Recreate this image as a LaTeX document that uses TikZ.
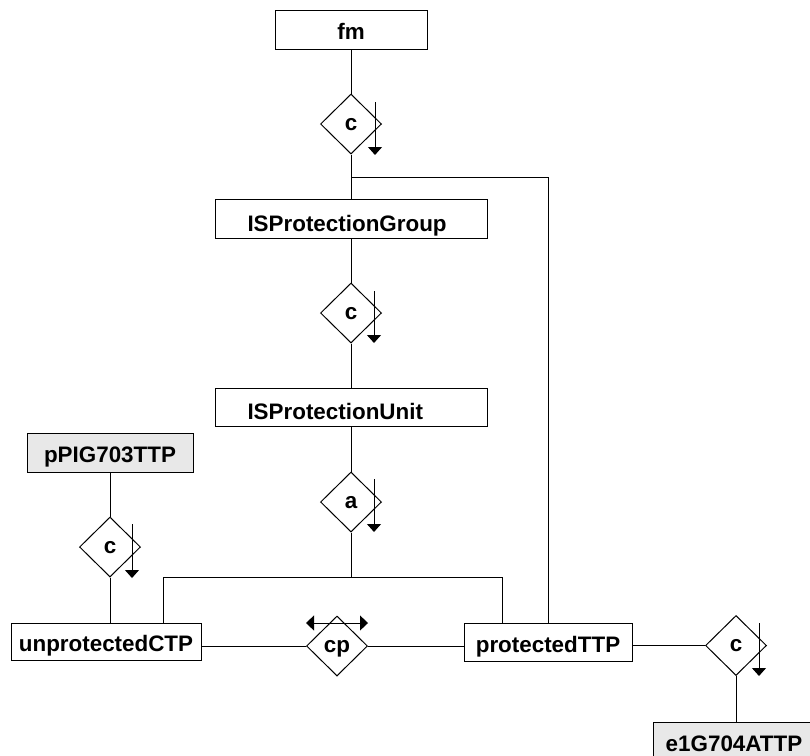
\documentclass[tikz,border=0pt]{standalone}
\usepackage{fontspec}
\setmainfont{Liberation Sans}
\usetikzlibrary{shapes.geometric,arrows.meta}
\begin{document}
\begin{tikzpicture}[x=1pt,y=-1pt,line width=1pt,
  every node/.style={font=\fontsize{22.4}{26}\selectfont\bfseries},
  box/.style={draw,rectangle,inner sep=0pt,text height=20pt,text depth=0pt,minimum height=39pt},
  leftbox/.style={box,align=left,anchor=west},
  graybox/.style={box,fill=black!9},
  rel/.style={draw,diamond,inner sep=0pt,minimum width=61pt,minimum height=60pt,text height=12pt,text depth=0pt,fill=white},
  flowarrow/.style={-{Triangle[width=14pt,length=8pt]}},
  botharrow/.style={{Triangle[width=15pt,length=8pt]}-{Triangle[width=15pt,length=8pt]}}
]
\useasboundingbox (0,0) rectangle (810,755);
\clip (0,0) rectangle (810,755);

% nodes
\node[box,minimum width=152pt] (fm) at (351,29.5) {fm};
\node[rel] (c1) at (351,124) {c};
\node[box,minimum width=272pt] (ispg) at (351,218.5) {};
\node[anchor=base west,inner sep=0pt] (ispgt) at (247,231) {ISProtectionGroup};
\node[rel] (c2) at (351,313) {c};
\node[box,minimum width=272pt,minimum height=38pt] (ispu) at (351,407) {};
\node[anchor=base west,inner sep=0pt] (isput) at (247,419.5) {ISProtectionUnit};
\node[rel] (ra) at (351,502) {a};
\node[graybox,minimum width=166pt] (ppig) at (110,452.5) {pPIG703TTP};
\node[rel] (cl) at (110,547) {c};
\node[box,minimum width=190pt,minimum height=37pt] (uctp) at (106,641.5) {unprotectedCTP};
\node[rel] (cp) at (337,646) {cp};
\node[box,minimum width=168pt,minimum height=38pt] (pttp) at (548,642) {protectedTTP};
\node[rel] (cr) at (736,645.5) {c};
\node[graybox,minimum width=162pt] (e1) at (734,741.5) {e1G704ATTP};

\coordinate (j1) at (351,177);
\coordinate (j2) at (351,577);
\coordinate (jl) at (163,577);
\coordinate (jr) at (502,577);

% connectors
\draw (fm.south) -- (c1.north);
\draw (c1.south) -- (ispg.north);
\draw (j1) -| (pttp.north);
\draw (ispg.south) -- (c2.north);
\draw (c2.south) -- (ispu.north);
\draw (ispu.south) -- (ra.north);
\draw (ra.south) -- (j2);
\draw (jl) -- (jr);
\draw (jl) -- (jl |- uctp.north);
\draw (jr) -- (jr |- pttp.north);
\draw (ppig.south) -- (cl.north);
\draw (cl.south) -- (cl.south |- uctp.north);
\draw (uctp.east |- cp.west) -- (cp.west);
\draw (cp.east) -- (pttp.west |- cp.east);
\draw (pttp.east |- cr.west) -- (cr.west);
\draw (cr.south) -- (cr.south |- e1.north);

% direction arrows
\draw[flowarrow] ([xshift=24pt,yshift=22pt]c1.center) -- ([xshift=24pt,yshift=-31pt]c1.center);
\draw[flowarrow] ([xshift=23pt,yshift=22pt]c2.center) -- ([xshift=23pt,yshift=-30pt]c2.center);
\draw[flowarrow] ([xshift=23pt,yshift=23pt]ra.center) -- ([xshift=23pt,yshift=-30pt]ra.center);
\draw[flowarrow] ([xshift=22pt,yshift=23pt]cl.center) -- ([xshift=22pt,yshift=-31pt]cl.center);
\draw[flowarrow] ([xshift=23pt,yshift=22.5pt]cr.center) -- ([xshift=23pt,yshift=-30.5pt]cr.center);
\draw[botharrow] ([xshift=-31pt,yshift=23pt]cp.center) -- ([xshift=31pt,yshift=23pt]cp.center);
\end{tikzpicture}
\end{document}
